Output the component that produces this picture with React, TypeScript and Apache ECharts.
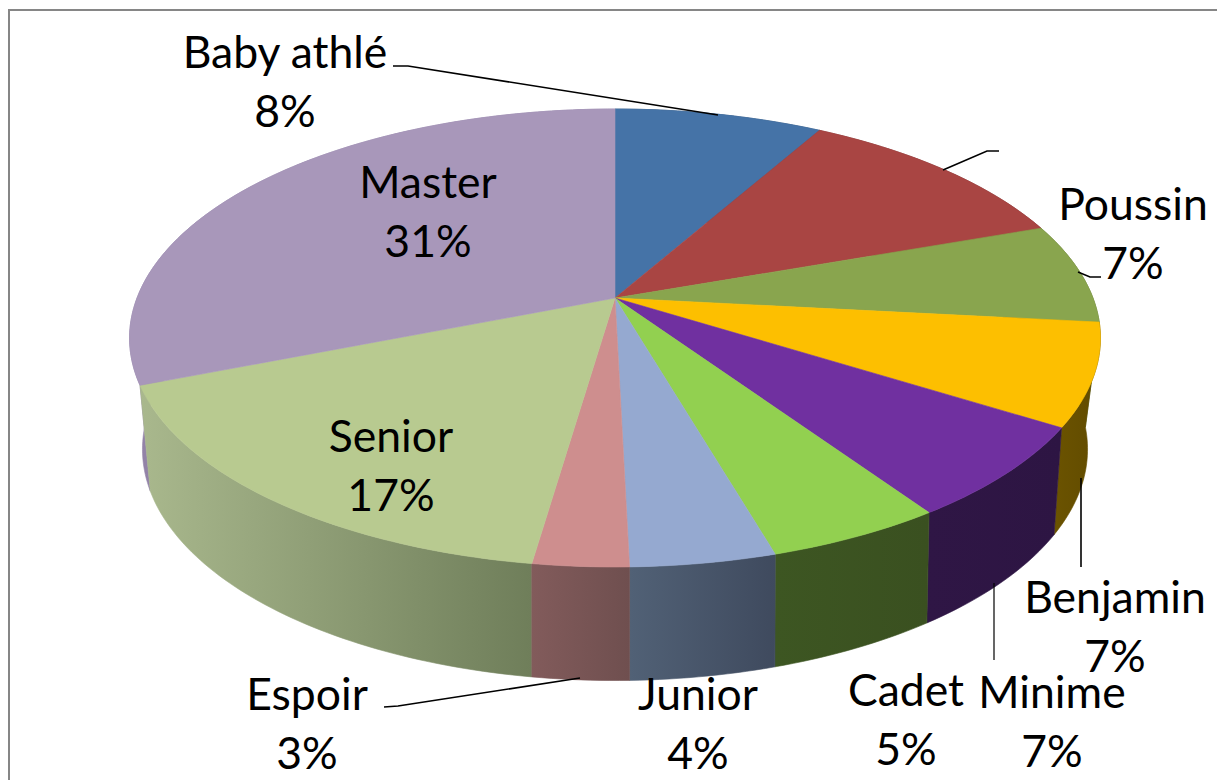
import React, { useEffect, useRef } from "react";
import * as echarts from "echarts";

const categories = ["Baby athlé", "", "Poussin", "Benjamin", "Minime", "Cadet", "Junior", "Espoir", "Senior", "Master"];
const shares = [8.2, 11.4, 7.1, 7.2, 6.6, 5.0, 4.1, 2.7, 16.7, 31.0];
const topColors = ["#4573A7", "#A94543", "#89A54E", "#FDBF00", "#7030A0", "#92D050", "#95A9D0", "#CE8E8E", "#B8CA90", "#A897BA"];
const wallLeft = ["#2F4F75", "#76302F", "#5F7336", "#6B5300", "#2F1645", "#3D5622", "#516176", "#825B5B", "#A9B88D", "#9383A8"];
const wallRight = ["#2F4F75", "#76302F", "#5F7336", "#614B00", "#2D1543", "#3A5020", "#3F4A5E", "#6F4F4F", "#6F7E5A", "#8F7FA5"];

const FONT = "Lato";
const FONT_SIZE = 44.5;
const LINE_H = 59;
// label centre x, centre y of first line
const labelLayout: number[][] = [
  [285, 50], [0, 0], [1133, 202], [1115, 595], [1052, 690], [906, 688], [698, 692], [307, 692], [391, 434], [428, 180],
];
const leaderLayout: (number[][] | null)[] = [
  [[393, 66], [408, 66], [718, 115]],
  [[943, 170], [987, 151], [999, 151]],
  [[1078, 272], [1090, 277], [1101, 277]],
  [[1081, 478], [1081, 567]],
  [[994, 583], [994, 660]],
  null,
  null,
  [[384, 707], [398, 706], [580, 678]],
  null,
  null,
];

const topRim = { cx: 615, cy: 298, a: 478, b: 222, k: 0.1747 };
const bottomRim = { cx: 615, cy: 403, a: 463, b: 222, k: 0.2 };
type Rim = typeof topRim;
const project = (r: Rim, deg: number) => {
  const t = (deg * Math.PI) / 180;
  const d = 1 + r.k * Math.cos(t);
  return [r.cx + (r.a * Math.sin(t)) / d, r.cy - (r.b * Math.cos(t)) / d];
};
const arc = (r: Rim, from: number, to: number) => {
  const pts: number[][] = [];
  const n = Math.max(2, Math.ceil(Math.abs(to - from)));
  for (let i = 0; i <= n; i++) pts.push(project(r, from + ((to - from) * i) / n));
  return pts;
};

const total = shares.reduce((s, v) => s + v, 0);
const spans: number[][] = [];
shares.reduce((acc, v, i) => {
  spans.push([(acc / total) * 360, ((acc + v) / total) * 360, i]);
  return acc + v;
}, 0);
const wallOrder = [...spans].sort(
  (p, q) => Math.cos((((q[0] + q[1]) / 2) * Math.PI) / 180) - Math.cos((((p[0] + p[1]) / 2) * Math.PI) / 180)
);

export default function App() {
  const ref = useRef<HTMLDivElement>(null);
  useEffect(() => {
    document.body.style.margin = "0";
    const chart = echarts.init(ref.current!, null, { renderer: "svg" });
    chart.setOption({
      animation: false,
      backgroundColor: "#ffffff",
      graphic: [
        {
          type: "rect",
          z: -1,
          shape: { x: 9, y: 10, width: 1240, height: 800 },
          style: { fill: "#ffffff", stroke: "#868686", lineWidth: 2 },
        },
      ],
      series: [
        {
          type: "custom",
          coordinateSystem: "none",
          z: 2,
          data: wallOrder,
          renderItem: (_p: any, api: any) => {
            const from = api.value(0), to = api.value(1), i = api.value(2);
            const pts = [...arc(topRim, from, to), ...arc(bottomRim, to, from)];
            const grad = new echarts.graphic.LinearGradient(0, 0, 1, 0, [
              { offset: 0, color: wallLeft[i] },
              { offset: 1, color: wallRight[i] },
            ]);
            return {
              type: "polygon",
              shape: { points: pts },
              style: { fill: grad, stroke: grad, lineWidth: 0.6 },
            };
          },
        },
        {
          type: "custom",
          coordinateSystem: "none",
          z: 3,
          data: spans,
          renderItem: (_p: any, api: any) => {
            const from = api.value(0), to = api.value(1), i = api.value(2);
            const pts = [[topRim.cx, topRim.cy], ...arc(topRim, from, to)];
            return {
              type: "polygon",
              shape: { points: pts },
              style: { fill: topColors[i], stroke: topColors[i], lineWidth: 0.6 },
            };
          },
        },
        {
          type: "custom",
          coordinateSystem: "none",
          z: 4,
          data: spans,
          renderItem: (_p: any, api: any) => {
            const i = api.value(2);
            const children: any[] = [];
            const leader = leaderLayout[i];
            if (leader) {
              children.push({
                type: "polyline",
                shape: { points: leader },
                style: { fill: "none", stroke: "#000000", lineWidth: i === 4 ? 1.2 : 1.6 },
              });
            }
            if (categories[i]) {
              const [x, y] = labelLayout[i];
              const pct = `${Math.round(shares[i])}%`;
              [categories[i], pct].forEach((t, k) => {
                children.push({
                  type: "text",
                  x,
                  y: y + k * LINE_H,
                  style: {
                    text: t,
                    fill: "#000000",
                    font: `${FONT_SIZE}px ${FONT}`,
                    align: "center",
                    verticalAlign: "middle",
                  },
                });
              });
            }
            return { type: "group", children };
          },
        },
      ],
    });
    return () => chart.dispose();
  }, []);
  return <div ref={ref} style={{ position: "fixed", left: 0, top: 0, width: 1217, height: 780 }} />;
}
